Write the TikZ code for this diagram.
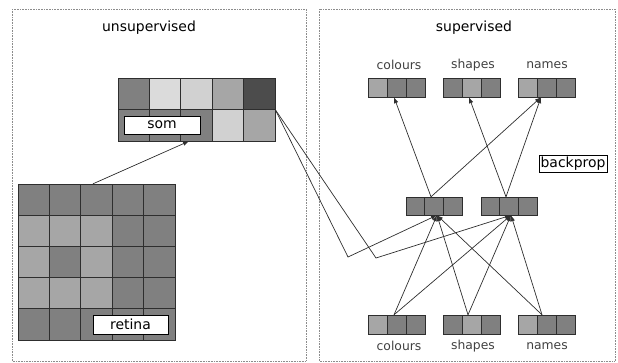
\documentclass[tikz,border=0pt]{standalone}
\usepackage{fontspec}
\setmainfont{DejaVu Sans}
\usetikzlibrary{arrows.meta}
\definecolor{cdark}{gray}{0.50}
\definecolor{clight}{gray}{0.65}
\definecolor{cpale}{gray}{0.86}
\definecolor{cpale2}{gray}{0.82}
\definecolor{cdeep}{gray}{0.30}
\definecolor{cline}{gray}{0.18}
\definecolor{cframe}{gray}{0.55}
\newcommand\cellrow[5]{%
  \foreach \cc [count=\ii from 0] in {#5} {%
    \filldraw[fill=\cc, draw=cline, line width=0.7bp] ({#1+\ii*#3},#2) rectangle ++(#3,#4);}}
\tikzset{
  panel/.style={draw=cframe, densely dotted, line width=0.6bp},
  header/.style={font=\fontsize{14}{16}\selectfont, inner sep=0pt},
  lab/.style={font=\fontsize{12.4}{14}\selectfont, text=black!75, inner sep=0pt},
  tag/.style={draw=black, fill=white, line width=0.7bp, inner sep=0pt, font=\fontsize{14}{16}\selectfont},
  layer/.style={inner sep=0pt, draw=none},
  conn/.style={draw=cline, line width=0.7bp},
  arr/.style={conn, -{Latex[length=6bp,width=4.5bp]}}
}
\begin{document}
\begin{tikzpicture}[x=1bp,y=-1bp]
\useasboundingbox (0,0) rectangle (618,362);
% panels
\draw[panel] (12,9) rectangle (306,361);
\draw[panel] (319,9) rectangle (615,361);
\node[header] (hu) at (149,28) {unsupervised};
\node[header] (hs) at (474,28) {supervised};

% som
\node[layer, minimum width=157bp, minimum height=63bp] (som) at (196.5,109.5) {};
\cellrow{118}{78}{31.4}{31.5}{cdark,cpale,cpale2,clight,cdeep}
\cellrow{118}{109.5}{31.4}{31.5}{cdark,cdark,cdark,cpale2,clight}
\node[tag, minimum width=76bp, minimum height=18bp] (somtag) at (162,125) {som};

% retina
\node[layer, minimum width=157bp, minimum height=156bp] (retina) at (96.5,262) {};
\cellrow{18}{184}{31.4}{31.2}{cdark,cdark,cdark,cdark,cdark}
\cellrow{18}{215.2}{31.4}{31.2}{clight,clight,clight,cdark,cdark}
\cellrow{18}{246.4}{31.4}{31.2}{clight,cdark,clight,cdark,cdark}
\cellrow{18}{277.6}{31.4}{31.2}{clight,clight,clight,cdark,cdark}
\cellrow{18}{308.8}{31.4}{31.2}{cdark,cdark,cdark,cdark,cdark}
\node[tag, minimum width=75bp, minimum height=19bp] (rettag) at (130.5,324.5) {retina};

% output layers
\node[layer, minimum width=57bp, minimum height=19bp] (oc) at (396.5,87.5) {};
\cellrow{368}{78}{19}{19}{clight,cdark,cdark}
\node[layer, minimum width=57bp, minimum height=19bp] (os) at (471.5,87.5) {};
\cellrow{443}{78}{19}{19}{cdark,clight,cdark}
\node[layer, minimum width=57bp, minimum height=19bp] (on) at (546.5,87.5) {};
\cellrow{518}{78}{19}{19}{clight,cdark,cdark}
\node[lab] (loc) at (399,65) {colours};
\node[lab] (los) at (473,65) {shapes};
\node[lab] (lon) at (547,65) {names};

% hidden layers
\node[layer, minimum width=56bp, minimum height=18bp] (h1) at (434,206) {};
\cellrow{406}{197}{18.67}{18}{cdark,cdark,cdark}
\node[layer, minimum width=56bp, minimum height=18bp] (h2) at (509,206) {};
\cellrow{481}{197}{18.67}{18}{cdark,cdark,cdark}

% input layers
\node[layer, minimum width=57bp, minimum height=19bp] (ic) at (396.5,324.5) {};
\cellrow{368}{315}{19}{19}{clight,cdark,cdark}
\node[layer, minimum width=57bp, minimum height=19bp] (is) at (471.5,324.5) {};
\cellrow{443}{315}{19}{19}{cdark,clight,cdark}
\node[layer, minimum width=57bp, minimum height=19bp] (in) at (546.5,324.5) {};
\cellrow{518}{315}{19}{19}{clight,cdark,cdark}
\node[lab] (lic) at (399,346) {colours};
\node[lab] (lis) at (473,346) {shapes};
\node[lab] (lin) at (547,346) {names};

\node[tag, minimum width=68bp, minimum height=17bp] (bp) at (573,164) {backprop};

% connectors
\coordinate (ka) at (348,257);
\coordinate (kb) at (376,258);
\draw[arr] ([xshift=-3.5bp]retina.north) -- ([xshift=-7.5bp]som.south);
\draw[arr] (som.east) -- (ka) -- ([xshift=3bp]h1.south);
\draw[arr] (som.east) -- (kb) -- ([xshift=2bp]h2.south);

\draw[arr] ([xshift=-3bp]h1.north) -- ([xshift=-2.5bp]oc.south);
\draw[arr] ([xshift=-3bp]h1.north) -- ([xshift=-5.5bp]on.south);
\draw[arr] ([xshift=-3bp]h2.north) -- ([xshift=-2.5bp]os.south);
\draw[arr] ([xshift=-3bp]h2.north) -- ([xshift=-5.5bp]on.south);

\draw[arr] ([xshift=-2.5bp]ic.north) -- ([xshift=3bp]h1.south);
\draw[arr] ([xshift=-2.5bp]ic.north) -- ([xshift=2bp]h2.south);
\draw[arr] ([xshift=-3.5bp]is.north) -- ([xshift=3bp]h1.south);
\draw[arr] ([xshift=-3.5bp]is.north) -- ([xshift=2bp]h2.south);
\draw[arr] ([xshift=-4.5bp]in.north) -- ([xshift=3bp]h1.south);
\draw[arr] ([xshift=-4.5bp]in.north) -- ([xshift=2bp]h2.south);
\end{tikzpicture}
\end{document}
